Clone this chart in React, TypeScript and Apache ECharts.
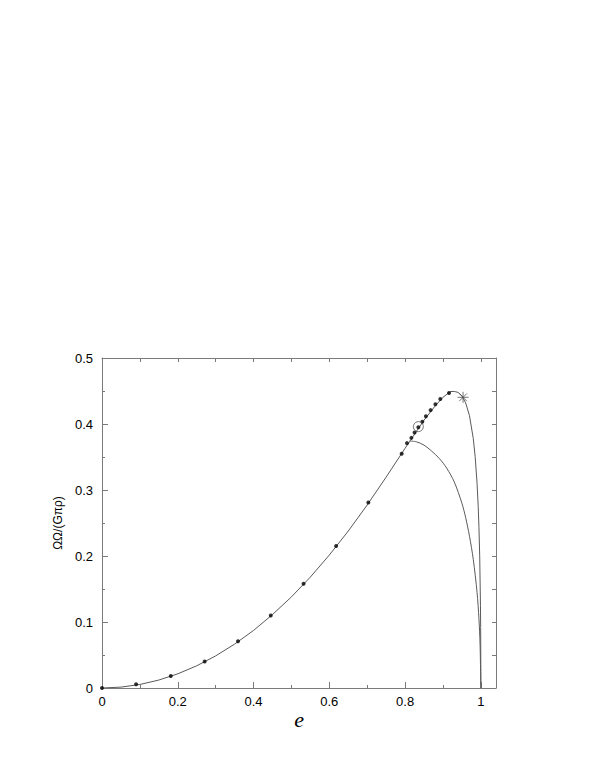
import React, { useEffect, useRef } from "react";
import * as echarts from "echarts";

// Maclaurin sequence
const macE = [0, 0.05, 0.1, 0.15, 0.2, 0.25, 0.3, 0.35, 0.4, 0.45, 0.5, 0.55, 0.6, 0.65, 0.7, 0.75, 0.8, 0.85, 0.88, 0.9, 0.92, 0.93, 0.94, 0.95, 0.96, 0.97, 0.98, 0.985, 0.99, 0.993, 0.995, 0.997, 0.999, 0.9995, 0.99995, 1.0];
const macW = [0, 0.00133, 0.00534, 0.01204, 0.02146, 0.03363, 0.04862, 0.0665, 0.0872, 0.1113, 0.138, 0.1681, 0.2014, 0.2378, 0.2773, 0.3195, 0.3632, 0.4058, 0.4277, 0.4405, 0.4492, 0.4493, 0.4479, 0.4427, 0.4319, 0.4126, 0.378, 0.3505, 0.3103, 0.2753, 0.2437, 0.1999, 0.1254, 0.0917, 0.0308, 0];

// Jacobi branch
const jacE = [0.8127, 0.83, 0.85, 0.87, 0.89, 0.91, 0.93, 0.95, 0.96, 0.97, 0.98, 0.99, 0.995, 0.998, 1.0];
const jacW = [0.3742, 0.373, 0.368, 0.359, 0.348, 0.333, 0.312, 0.28, 0.258, 0.23, 0.195, 0.145, 0.105, 0.065, 0];

// Computed points (dots)
const dotE = [0, 0.09, 0.1816, 0.271, 0.359, 0.4455, 0.532, 0.618, 0.703, 0.791, 0.805, 0.8166, 0.825, 0.835, 0.8455, 0.855, 0.8674, 0.88, 0.893, 0.916];
const dotW = [0, 0.0056, 0.0182, 0.04, 0.0707, 0.11, 0.158, 0.215, 0.281, 0.355, 0.371, 0.379, 0.387, 0.395, 0.4035, 0.4116, 0.421, 0.43, 0.438, 0.447];

// Special markers
const circleE = [0.835];
const circleW = [0.396];
const starE = [0.953];
const starW = [0.4404];

const xTicks = ["0", "0.2", "0.4", "0.6", "0.8", "1"];

const zip = (a: number[], b: number[]) => a.map((v, i) => [v, b[i]]);

export default function App() {
  const ref = useRef<HTMLDivElement>(null);
  useEffect(() => {
    if (!ref.current) return;
    const chart = echarts.init(ref.current, null, { renderer: "svg" });
    const axisColor = "#7a7a7a";
    const lineColor = "#5a5a5a";
    const font = "'Liberation Sans', Arial, Helvetica, sans-serif";
    chart.setOption({
      animation: false,
      backgroundColor: "#ffffff",
      grid: { left: 102, right: 103, top: 358, bottom: 88 },
      xAxis: [
        {
          type: "value",
          position: "bottom",
          min: 0,
          max: 1.04,
          interval: 0.2,
          axisLine: { show: true, onZero: false, lineStyle: { color: axisColor, width: 1 } },
          axisTick: { show: true, inside: true, length: 6, lineStyle: { color: axisColor } },
          minorTick: { show: true, splitNumber: 2, length: 3, lineStyle: { color: axisColor } },
          splitLine: { show: false },
          axisLabel: {
            showMaxLabel: false,
            margin: 7,
            color: "#000",
            fontSize: 13,
            fontFamily: font,
            formatter: (v: number) => xTicks[Math.round(v / 0.2)] ?? "",
          },
          name: "e",
          nameLocation: "middle",
          nameGap: 20,
          nameTextStyle: {
            fontFamily: "'Liberation Serif', 'Times New Roman', serif",
            fontStyle: "italic",
            fontSize: 22,
            color: "#000",
          },
        },
        {
          type: "value",
          position: "top",
          min: 0,
          max: 1.04,
          interval: 0.1,
          axisLine: { show: true, onZero: false, lineStyle: { color: axisColor, width: 1 } },
          axisTick: { show: true, inside: true, length: 4, lineStyle: { color: axisColor } },
          axisLabel: { show: false },
          splitLine: { show: false },
        },
      ],
      yAxis: [
        {
          type: "value",
          position: "left",
          min: 0,
          max: 0.5,
          interval: 0.1,
          axisLine: { show: true, onZero: false, lineStyle: { color: axisColor, width: 1 } },
          axisTick: { show: true, inside: true, length: 6, lineStyle: { color: axisColor } },
          minorTick: { show: true, splitNumber: 2, length: 3, lineStyle: { color: axisColor } },
          splitLine: { show: false },
          axisLabel: {
            margin: 9,
            color: "#000",
            fontSize: 13,
            fontFamily: font,
            formatter: (v: number) => (v === 0 ? "0" : v.toFixed(1)),
          },
          name: "ΩΩ/(Gπρ)",
          nameLocation: "middle",
          nameGap: 36,
          nameRotate: 90,
          nameTextStyle: { fontFamily: font, fontSize: 12, color: "#000" },
        },
        {
          type: "value",
          position: "right",
          min: 0,
          max: 0.5,
          interval: 0.05,
          axisLine: { show: true, onZero: false, lineStyle: { color: axisColor, width: 1 } },
          axisTick: { show: true, inside: true, length: 4, lineStyle: { color: axisColor } },
          axisLabel: { show: false },
          splitLine: { show: false },
        },
      ],
      series: [
        {
          type: "line",
          data: zip(macE, macW),
          showSymbol: false,
          smooth: false,
          lineStyle: { color: lineColor, width: 1 },
          z: 2,
        },
        {
          type: "line",
          data: zip(jacE, jacW),
          showSymbol: false,
          smooth: 0.3,
          lineStyle: { color: lineColor, width: 1 },
          z: 2,
        },
        {
          type: "scatter",
          data: zip(dotE, dotW),
          symbol: "circle",
          symbolSize: 4,
          itemStyle: { color: "#000" },
          z: 4,
        },
        {
          type: "scatter",
          data: zip(circleE, circleW),
          symbol: "circle",
          symbolSize: 10,
          itemStyle: { color: "rgba(0,0,0,0)", borderColor: "#555", borderWidth: 1 },
          z: 5,
        },
        {
          type: "scatter",
          data: zip(starE, starW),
          symbol: "path://M5,0L5,10M0,5L10,5M1.5,1.5L8.5,8.5M1.5,8.5L8.5,1.5",
          symbolSize: 11,
          itemStyle: { color: "none", borderColor: "#555", borderWidth: 1 },
          z: 5,
        },
      ],
    });
    return () => chart.dispose();
  }, []);
  return (
    <div
      ref={ref}
      style={{ position: "fixed", left: 0, top: 0, width: 599, height: 776 }}
    />
  );
}
